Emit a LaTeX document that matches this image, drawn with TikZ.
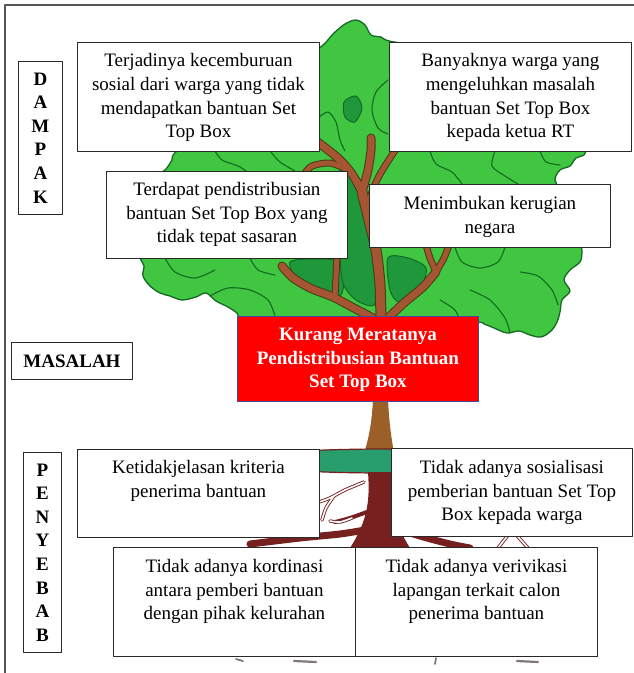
\documentclass[tikz,border=0pt]{standalone}
\usepackage{fontspec}
\setmainfont{Liberation Serif}
\definecolor{leaf}{RGB}{64,198,64}
\definecolor{leafdark}{RGB}{30,152,58}
\definecolor{leafline}{RGB}{20,105,35}
\definecolor{branch}{RGB}{165,85,50}
\definecolor{branchline}{RGB}{70,60,25}
\definecolor{trunkc}{RGB}{155,95,40}
\definecolor{groundc}{RGB}{40,158,108}
\definecolor{rootc}{RGB}{118,32,32}
\definecolor{boxline}{RGB}{40,40,40}
\definecolor{redline}{RGB}{75,70,150}
\definecolor{framec}{RGB}{85,85,85}
\definecolor{smudge}{RGB}{130,120,120}
\newcommand\bx[4]{\parbox[c][#2pt][t]{#1pt}{\centering\rule{0pt}{#3pt}#4}}
\newcommand\brpaths[4]{%
  \draw[#1,line width=#2pt] plot[smooth] coordinates {(381,322) (380,285) (376,250) (369,220) (362,192)};
  \draw[#1,line width=#3pt] plot[smooth] coordinates {(362,192) (352,174) (338,158) (315,140)};
  \draw[#1,line width=#3pt] plot[smooth] coordinates {(362,192) (368,170) (371,150) (371,138)};
  \draw[#1,line width=#4pt] plot[smooth] coordinates {(367,205) (378,178) (394,152) (400,145)};
  \draw[#1,line width=#4pt] plot[smooth] coordinates {(348,170) (330,163) (312,166) (305,173)};
  \draw[#1,line width=#3pt] plot[smooth] coordinates {(373,318) (352,307) (333,297) (310,288) (292,277) (282,266)};
  \draw[#1,line width=#4pt] plot[smooth] coordinates {(335,296) (336,276) (337,256)};
  \draw[#1,line width=#3pt] plot[smooth] coordinates {(388,318) (405,302) (423,287) (436,272)};
  \draw[#1,line width=#4pt] plot[smooth] coordinates {(436,272) (430,258) (426,245)};
  \draw[#1,line width=#4pt] plot[smooth] coordinates {(436,272) (444,258) (449,245)};
}
\begin{document}
\begin{tikzpicture}[x=1pt,y=-1pt,line cap=round,line join=round,
  box/.style={draw=boxline,fill=white,line width=0.9pt,inner sep=0pt,
    font=\fontsize{19}{23.6}\selectfont},
  lab/.style={box,align=center,font=\fontsize{19}{23.6}\selectfont\bfseries},
  lobe/.style={draw=leafline,line width=1.1pt},
  patch/.style={fill=leafdark,draw=leafline,line width=1pt},
  thinroot/.style={draw=rootc,line width=3.4pt},
  thinrootin/.style={draw=white,line width=1.6pt}]
\useasboundingbox (0,0) rectangle (634,673);
\fill[white] (0,0) rectangle (634,673);
% canopy
\filldraw[fill=leaf,draw=leafline,line width=1.3pt] plot[smooth cycle,tension=0.55] coordinates {
 (300,60) (322,46) (333,34) (345,24) (356,20) (365,25) (371,35) (381,37) (394,42)
 (460,50) (560,70) (610,120) (588,148)
 (584,155) (576,158) (570,166) (560,170) (555,180) (562,190)
 (590,215) (582,243)
 (582,252) (580,262) (570,270) (564,280) (570,291) (562,300) (560,312) (557,322) (551,331) (541,337)
 (530,335) (519,331) (507,333) (494,328) (484,324) (474,322)
 (400,322) (300,322) (245,320)
 (237,313) (228,307) (216,301) (206,293) (196,297) (182,300) (170,296) (160,293) (150,286) (143,276) (144,266) (141,260)
 (140,252) (140,215) (155,180)
 (166,169) (172,160) (178,150) (230,110)};
% lobe lines
\draw[lobe] plot[smooth] coordinates {(318,118) (328,112) (336,122) (340,140) (345,151)};
\draw[lobe] plot[smooth] coordinates {(388,80) (376,92) (372,110) (378,128) (388,134)};
\draw[lobe] plot[smooth] coordinates {(215,151) (222,160) (238,166) (246,171)};
\draw[lobe] plot[smooth] coordinates {(270,151) (280,162) (295,171)};
\draw[lobe] plot[smooth] coordinates {(430,151) (436,164) (452,172) (462,184)};
\draw[lobe] plot[smooth] coordinates {(495,151) (492,166) (505,176) (518,184)};
\draw[lobe] plot[smooth] coordinates {(540,151) (546,162) (560,165)};
\draw[lobe] plot[smooth] coordinates {(455,247) (462,262) (480,268) (498,262) (505,247)};
\draw[lobe] plot[smooth] coordinates {(520,272) (538,276) (552,290) (558,305)};
\draw[lobe] plot[smooth] coordinates {(470,290) (490,300) (505,318) (510,333)};
\draw[lobe] plot[smooth] coordinates {(440,300) (455,310) (460,322)};
\draw[lobe] plot[smooth] coordinates {(165,258) (175,272) (195,278) (215,270)};
\draw[lobe] plot[smooth] coordinates {(210,296) (228,288) (250,290) (268,300) (275,316)};
\draw[lobe] plot[smooth] coordinates {(250,258) (258,270) (275,275)};
% dark patches
\filldraw[patch] plot[smooth cycle] coordinates {(290,262) (318,259) (340,262) (344,280) (340,296) (322,292) (300,283)};
\filldraw[patch] plot[smooth cycle] coordinates {(340,170) (356,180) (364,210) (371,245) (376,280) (374,305) (356,300) (343,283) (340,250) (342,210)};
\filldraw[patch] plot[smooth cycle] coordinates {(388,258) (408,258) (426,268) (420,288) (400,302) (390,290)};
\filldraw[patch] plot[smooth cycle] coordinates {(344,102) (356,96) (362,108) (355,122) (345,117)};
% branches
\brpaths{branchline}{11}{9}{7}
\brpaths{branch}{9}{7}{5}
% trunk
\fill[trunkc] (373,398) -- (388,398) .. controls (389,425) and (392,440) .. (394,454) -- (364,454) .. controls (368,440) and (372,425) .. (373,398) -- cycle;
% ground
\filldraw[fill=groundc,draw=rootc,line width=1.2pt] (385,461) ellipse [x radius=150pt, y radius=12pt];
% roots
\fill[rootc] (368,472) .. controls (370,500) and (368,520) .. (350,548) -- (410,548) .. controls (395,525) and (391,500) .. (392,472) -- cycle;
\draw[rootc,line width=7pt] plot[smooth] coordinates {(365,530) (340,534) (300,538) (250,544)};
\draw[rootc,line width=4pt] plot[smooth] coordinates {(367,512) (350,518) (335,522)};
\draw[rootc,line width=7pt] plot[smooth] coordinates {(395,528) (420,536) (450,544) (470,548)};
\draw[rootc,line width=4pt] plot[smooth] coordinates {(392,500) (402,515) (405,530)};
\draw[thinroot] plot[smooth] coordinates {(364,482) (345,490) (330,498) (319,502)};
\draw[thinroot] plot[smooth] coordinates {(334,496) (326,508) (322,520)};
\draw[thinroot] plot[smooth] coordinates {(352,518) (340,522) (330,521)};
\draw[thinroot] (512,530) -- (498,548) (512,530) -- (528,548);
\draw[thinrootin] plot[smooth] coordinates {(364,482) (345,490) (330,498) (319,502)};
\draw[thinrootin] plot[smooth] coordinates {(334,496) (326,508) (322,520)};
\draw[thinrootin] plot[smooth] coordinates {(352,518) (340,522) (330,521)};
\draw[thinrootin] (512,530) -- (498,548) (512,530) -- (528,548);
% root tips below bottom boxes
\draw[smudge,line width=1.8pt] (236,659) -- (243,661);
\draw[smudge,line width=2.2pt] (294,661) -- (316,662);
\draw[smudge,line width=1.8pt] (436,658) -- (435,664);
\draw[smudge,line width=2.2pt] (517,661) -- (538,662);
% boxes
\node[box,anchor=north west] (d1) at (77,42) {\bx{242}{109}{24.5}{Terjadinya kecemburuan\\sosial dari warga yang tidak\\mendapatkan bantuan Set\\Top Box}};
\node[box,anchor=north west] (d2) at (389,42) {\bx{242}{109}{24.5}{Banyaknya warga yang\\mengeluhkan masalah\\bantuan Set Top Box\\kepada ketua RT}};
\node[box,anchor=north west] (d3) at (106,171) {\bx{241}{87}{24}{Terdapat pendistribusian\\bantuan Set Top Box yang\\tidak tepat sasaran}};
\node[box,anchor=north west] (d4) at (369,184) {\bx{241}{63}{25}{Menimbukan kerugian\\negara}};
\node[box,anchor=north west,fill=red,draw=redline,text=white,font=\fontsize{19}{23.6}\selectfont\bfseries] (m) at (237,316) {\bx{241}{85}{24}{Kurang Meratanya\\Pendistribusian Bantuan\\Set Top Box}};
\node[box,anchor=north west] (c1) at (77,449) {\bx{242}{88}{24}{Ketidakjelasan kriteria\\penerima bantuan}};
\node[box,anchor=north west] (c2) at (391,448) {\bx{241}{88}{25}{Tidak adanya sosialisasi\\pemberian bantuan Set Top\\Box kepada warga}};
\node[box,anchor=north west] (c3) at (113,547) {\bx{242}{109}{25}{Tidak adanya kordinasi\\antara pemberi bantuan\\dengan pihak kelurahan}};
\node[box,anchor=north west] (c4) at (355,547) {\bx{242}{109}{25}{Tidak adanya verivikasi\\lapangan terkait calon\\penerima bantuan}};
\node[lab,anchor=north west,minimum width=44pt,minimum height=153pt] (ldampak) at (18,61) {D\\A\\M\\P\\A\\K};
\node[lab,anchor=north west,minimum width=121pt,minimum height=37pt] (lmasalah) at (11,342) {MASALAH};
\node[lab,anchor=north west,minimum width=38pt,minimum height=200pt] (lpenyebab) at (23,452) {P\\E\\N\\Y\\E\\B\\A\\B};
% frame
\draw[framec,line width=1.3pt] (634,5) -- (5,5) -- (5,673);
\end{tikzpicture}
\end{document}
